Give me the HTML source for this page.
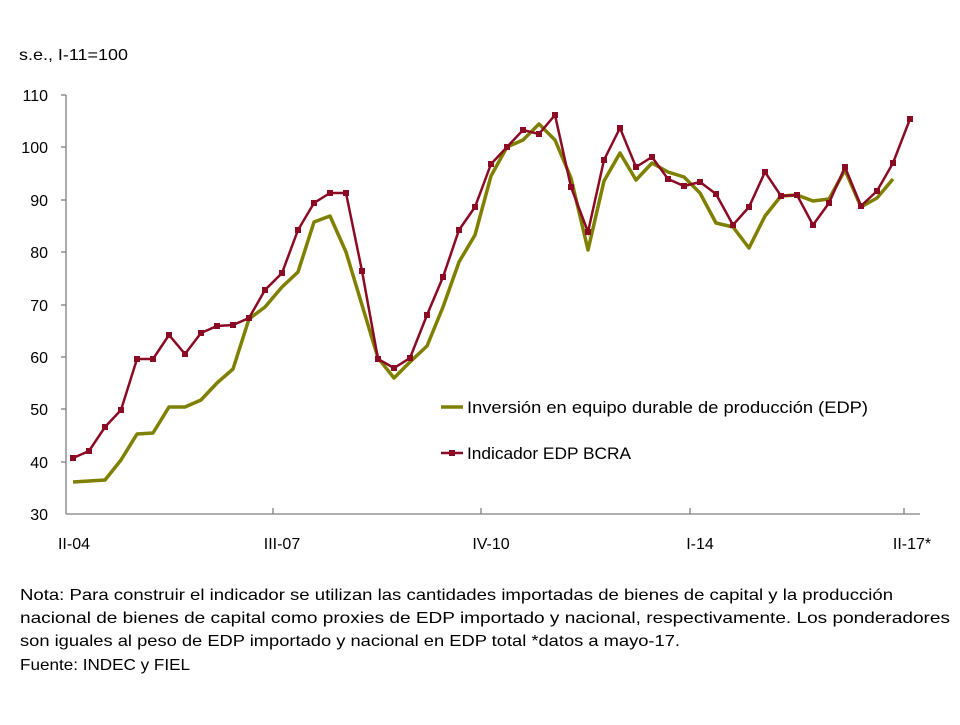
<!DOCTYPE html>
<html><head><meta charset="utf-8"><style>
body{margin:0;background:#fff;}
svg text{font-family:"Liberation Sans",sans-serif;fill:#000;}
</style></head><body>
<svg width="960" height="720" xmlns="http://www.w3.org/2000/svg">
<text x="19" y="60" font-size="16" textLength="109" lengthAdjust="spacingAndGlyphs">s.e., I-11=100</text>
<g font-size="16" text-anchor="end">
<text x="48" y="520">30</text><text x="48" y="468">40</text><text x="48" y="415">50</text><text x="48" y="363">60</text><text x="48" y="311">70</text><text x="48" y="258">80</text><text x="48" y="206">90</text><text x="48" y="153">100</text><text x="48" y="101">110</text>
</g>
<g stroke="#7f7f7f" stroke-width="1.3">
<line x1="66" y1="95" x2="66" y2="514"/><line x1="66" y1="514" x2="920" y2="514"/>
<line x1="61" y1="95" x2="66" y2="95"/><line x1="61" y1="147" x2="66" y2="147"/><line x1="61" y1="200" x2="66" y2="200"/><line x1="61" y1="252" x2="66" y2="252"/><line x1="61" y1="305" x2="66" y2="305"/><line x1="61" y1="357" x2="66" y2="357"/><line x1="61" y1="409" x2="66" y2="409"/><line x1="61" y1="462" x2="66" y2="462"/>
<line x1="273" y1="508" x2="273" y2="514"/><line x1="481" y1="508" x2="481" y2="514"/><line x1="690" y1="508" x2="690" y2="514"/><line x1="904" y1="508" x2="904" y2="514"/>
</g>
<g font-size="16" text-anchor="middle">
<text x="74" y="549">II-04</text><text x="282" y="549">III-07</text><text x="491" y="549">IV-10</text><text x="700" y="549">I-14</text><text x="912" y="549">II-17*</text>
</g>
<polyline fill="none" stroke="#808000" stroke-width="3.5" stroke-linejoin="round" points="73,482 89,481 105,480 121,460 137,434 153,433 169,407 185,407 201,400 217,383 233,369 249,319 265,307 282,287 298,272 314,222 330,216 346,252 362,305 378,358 394,378 410,362 427,346 443,307 459,262 475,235 491,176 507,147 523,140 539,124 555,140 571,178 588,250 604,181 620,153 636,180 652,163 668,172 684,177 700,193 716,223 733,227 749,248 765,216 781,196 797,195 813,201 829,199 845,170 861,207 877,198 893,179"/>
<polyline fill="none" stroke="#8b0a24" stroke-width="2.5" points="73,458 89,451 105,427 121,410 137,359 153,359 169,335 185,354 201,333 217,326 233,325 249,318 265,290 282,273 298,230 314,203 330,193 346,193 362,271 378,359 394,368 410,358 427,315 443,277 459,230 475,207 491,164 507,147 523,130 539,134 555,115 571,187 588,232 604,160 620,128 636,167 652,157 668,179 684,186 700,182 716,194 733,225 749,207 765,172 781,196 797,195 813,225 829,203 845,167 861,206 877,191 893,163 910,119"/>
<line x1="441" y1="407" x2="463" y2="407" stroke="#808000" stroke-width="3.5"/>
<text x="467" y="413" font-size="17" textLength="401" lengthAdjust="spacingAndGlyphs">Inversión en equipo durable de producción (EDP)</text>
<line x1="441" y1="453" x2="463" y2="453" stroke="#8b0a24" stroke-width="2.5"/>
<rect x="449" y="450" width="6" height="6" fill="#8b0a24"/>
<text x="467" y="459" font-size="17" textLength="164" lengthAdjust="spacingAndGlyphs">Indicador EDP BCRA</text>
<g font-size="16">
<text x="20" y="600" textLength="873" lengthAdjust="spacingAndGlyphs">Nota: Para construir el indicador se utilizan las cantidades importadas de bienes de capital y la producción</text>
<text x="20" y="623" textLength="930" lengthAdjust="spacingAndGlyphs">nacional de bienes de capital como proxies de EDP importado y nacional, respectivamente. Los ponderadores</text>
<text x="20" y="646" textLength="660" lengthAdjust="spacingAndGlyphs">son iguales al peso de EDP importado y nacional en EDP total *datos a mayo-17.</text>
<text x="20" y="670" textLength="170" lengthAdjust="spacingAndGlyphs">Fuente: INDEC y FIEL</text>
</g>
<g fill="#8b0a24">
<rect x="70" y="455" width="6" height="6"/><rect x="86" y="448" width="6" height="6"/><rect x="102" y="424" width="6" height="6"/><rect x="118" y="407" width="6" height="6"/><rect x="134" y="356" width="6" height="6"/><rect x="150" y="356" width="6" height="6"/><rect x="166" y="332" width="6" height="6"/><rect x="182" y="351" width="6" height="6"/><rect x="198" y="330" width="6" height="6"/><rect x="214" y="323" width="6" height="6"/><rect x="230" y="322" width="6" height="6"/><rect x="246" y="315" width="6" height="6"/><rect x="262" y="287" width="6" height="6"/><rect x="279" y="270" width="6" height="6"/><rect x="295" y="227" width="6" height="6"/><rect x="311" y="200" width="6" height="6"/><rect x="327" y="190" width="6" height="6"/><rect x="343" y="190" width="6" height="6"/><rect x="359" y="268" width="6" height="6"/><rect x="375" y="356" width="6" height="6"/><rect x="391" y="365" width="6" height="6"/><rect x="407" y="355" width="6" height="6"/><rect x="424" y="312" width="6" height="6"/><rect x="440" y="274" width="6" height="6"/><rect x="456" y="227" width="6" height="6"/><rect x="472" y="204" width="6" height="6"/><rect x="488" y="161" width="6" height="6"/><rect x="504" y="144" width="6" height="6"/><rect x="520" y="127" width="6" height="6"/><rect x="536" y="131" width="6" height="6"/><rect x="552" y="112" width="6" height="6"/><rect x="568" y="184" width="6" height="6"/><rect x="585" y="229" width="6" height="6"/><rect x="601" y="157" width="6" height="6"/><rect x="617" y="125" width="6" height="6"/><rect x="633" y="164" width="6" height="6"/><rect x="649" y="154" width="6" height="6"/><rect x="665" y="176" width="6" height="6"/><rect x="681" y="183" width="6" height="6"/><rect x="697" y="179" width="6" height="6"/><rect x="713" y="191" width="6" height="6"/><rect x="730" y="222" width="6" height="6"/><rect x="746" y="204" width="6" height="6"/><rect x="762" y="169" width="6" height="6"/><rect x="778" y="193" width="6" height="6"/><rect x="794" y="192" width="6" height="6"/><rect x="810" y="222" width="6" height="6"/><rect x="826" y="200" width="6" height="6"/><rect x="842" y="164" width="6" height="6"/><rect x="858" y="203" width="6" height="6"/><rect x="874" y="188" width="6" height="6"/><rect x="890" y="160" width="6" height="6"/><rect x="907" y="116" width="6" height="6"/>
</g>
</svg>
</body></html>
